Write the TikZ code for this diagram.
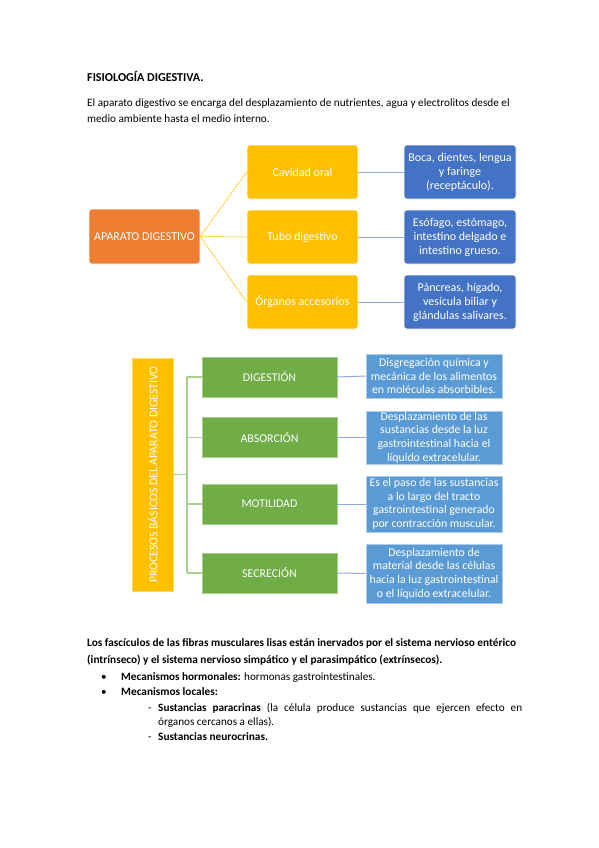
\documentclass[tikz,border=0pt]{standalone}
\usepackage{fontspec}
\setmainfont{Carlito}
\definecolor{corange}{HTML}{ED7D31}
\definecolor{cyellow}{HTML}{FFC000}
\definecolor{cdblue}{HTML}{4472C4}
\definecolor{cgreen}{HTML}{70AD47}
\definecolor{clblue}{HTML}{5B9BD5}
\definecolor{lyellow}{HTML}{FFD966}
\definecolor{lblue}{HTML}{8FAADC}
\definecolor{lgreen}{HTML}{A9D18E}
\begin{document}
\begin{tikzpicture}[x=1pt,y=1pt,
  txt/.style={anchor=base west,inner sep=0pt,font=\fontsize{11.2}{13}\selectfont},
  btxt/.style={txt,font=\fontsize{11.3}{13}\selectfont\bfseries},
  box/.style={draw=white,line width=0.6pt,rounded corners=3pt,text=white,align=center,inner sep=1pt,font=\fontsize{12}{14}\selectfont},
  obox/.style={box,fill=corange,minimum width=111pt,minimum height=55pt},
  ybox/.style={box,fill=cyellow,minimum width=111pt,minimum height=54pt},
  dbbox/.style={box,fill=cdblue,minimum width=112pt,minimum height=54pt},
  gbox/.style={draw=cgreen!60!white,line width=0.6pt,fill=cgreen,text=white,align=center,inner sep=1pt,minimum width=135pt,minimum height=40pt,font=\fontsize{11.9}{13.5}\selectfont},
  lbbox/.style={draw=clblue!50!white,line width=0.6pt,fill=clblue,text=white,align=center,inner sep=1pt,minimum width=136pt,font=\fontsize{11.8}{13.6}\selectfont},
  yline/.style={draw=lyellow,line width=1pt},
  bline/.style={draw=lblue,line width=1pt},
  gline/.style={draw=lgreen,line width=1.2pt}
]
\useasboundingbox (0,0) rectangle (599,-848);
\fill[white] (0,0) rectangle (599,-848);

% header
\node[btxt,font=\fontsize{12.1}{14}\selectfont\bfseries] (title) at (87,-82) {FISIOLOGÍA DIGESTIVA.};
\node[txt] (p1) at (87,-106.5) {El aparato digestivo se encarga del desplazamiento de nutrientes, agua y electrolitos desde el};
\node[txt] (p2) at (87,-122.5) {medio ambiente hasta el medio interno.};

% diagram 1
\node[obox] (ap) at (144.5,-236.5) {APARATO DIGESTIVO};
\node[ybox] (co) at (302.5,-172) {Cavidad oral};
\node[ybox] (td) at (302.5,-237) {Tubo digestivo};
\node[ybox] (oa) at (302.5,-302) {Órganos accesorios};
\node[dbbox] (co2) at (460,-172) {Boca, dientes, lengua\\y faringe\\(receptáculo).};
\node[dbbox] (td2) at (460,-237) {Esófago, estómago,\\intestino delgado e\\intestino grueso.};
\node[dbbox] (oa2) at (460,-302) {Páncreas, hígado,\\vesícula biliar y\\glándulas salivares.};
\draw[yline] (ap.east) -- (co.west);
\draw[yline] (ap.east) -- (td.west);
\draw[yline] (ap.east) -- (oa.west);
\draw[bline] (co.east) -- (co2.west);
\draw[bline] (td.east) -- (td2.west);
\draw[bline] (oa.east) -- (oa2.west);

% diagram 2
\node[draw=cyellow!60!white,line width=0.6pt,fill=cyellow,text=white,rotate=90,minimum width=233pt,minimum height=41pt,inner sep=1pt,font=\fontsize{11.8}{13}\selectfont] (pb) at (152.5,-474.5) {PROCESOS BÁSICOS DEL APARATO DIGESTIVO};
\node[gbox] (dg) at (269.5,-377) {DIGESTIÓN};
\node[gbox] (ab) at (269.5,-437.5) {ABSORCIÓN};
\node[gbox] (mo) at (269.5,-504) {MOTILIDAD};
\node[gbox] (se) at (269.5,-573) {SECRECIÓN};
\node[lbbox,minimum height=44pt] (dg2) at (434,-376) {Disgregación química y\\mecánica de los alimentos\\en moléculas absorbibles.};
\node[lbbox,minimum height=53pt] (ab2) at (434,-437.5) {Desplazamiento de las\\sustancias desde la luz\\gastrointestinal hacia el\\líquido extracelular.};
\node[lbbox,minimum height=56pt] (mo2) at (434,-504) {Es el paso de las sustancias\\a lo largo del tracto\\gastrointestinal generado\\por contracción muscular.};
\node[lbbox,minimum height=59pt] (se2) at (434,-573.5) {Desplazamiento de\\material desde las células\\hacia la luz gastrointestinal\\o el líquido extracelular.};
\coordinate (tr) at (187,-474.5);
\coordinate (tt) at (187,-377);
\coordinate (tb) at (187,-573);
\draw[gline] (pb.south) -- (tr);
\draw[gline] (tt) -- (tb);
\draw[gline] (tt) -- (dg.west);
\draw[gline] (ab.west -| tr) -- (ab.west);
\draw[gline] (mo.west -| tr) -- (mo.west);
\draw[gline] (tb) -- (se.west);
\draw[bline] (dg.east) -- (dg2.west);
\draw[bline] (ab.east) -- (ab2.west);
\draw[bline] (mo.east) -- (mo2.west);
\draw[bline] (se.east) -- (se2.west);

% bottom text
\node[btxt] (f1) at (87,-646.5) {Los fascículos de las fibras musculares lisas están inervados por el sistema nervioso entérico};
\node[btxt] (f2) at (87,-663.5) {(intrínseco) y el sistema nervioso simpático y el parasimpático (extrínsecos).};
\node[txt] (b1) at (101,-680.5) {•};
\node[txt] (l1) at (121,-680.5) {\textbf{Mecanismos hormonales:} hormonas gastrointestinales.};
\node[txt] (b2) at (101,-695.5) {•};
\node[btxt] (l2) at (121,-695.5) {Mecanismos locales:};
\node[txt] (d1) at (148,-711.5) {-};
\node[txt] (l3) at (158,-711.5) {\makebox[364pt][s]{\textbf{Sustancias paracrinas} (la célula produce sustancias que ejercen efecto en}};
\node[txt] (l4) at (158,-725.5) {órganos cercanos a ellas).};
\node[txt] (d2) at (148,-740.5) {-};
\node[btxt] (l5) at (158,-740.5) {Sustancias neurocrinas.};
\end{tikzpicture}
\end{document}
